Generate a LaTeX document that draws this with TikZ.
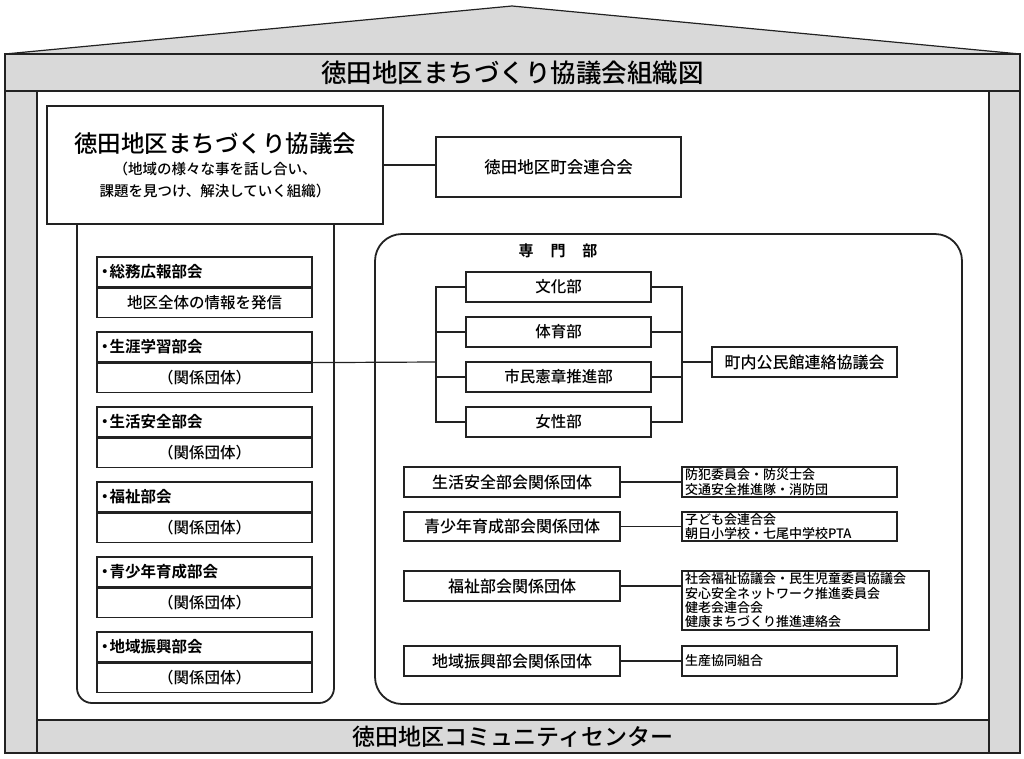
\documentclass[tikz,border=0pt]{standalone}
\usepackage{fontspec}
\setmainfont{Noto Sans CJK JP}[UprightFont=* Medium, BoldFont=* Bold]
\usetikzlibrary{positioning}

\definecolor{housegray}{HTML}{D9D9D9}
\definecolor{linegray}{HTML}{222222}
\newcommand{\tsize}[1]{\fontsize{#1pt}{#1pt}\selectfont}
\newcommand{\dotmark}{・\kern-3pt}

\begin{document}
\begin{tikzpicture}[x=1pt, y=-1pt,
    box/.style={draw=linegray, line width=1.2pt, fill=white, inner sep=0pt, minimum height=30pt},
    house/.style={draw=linegray, line width=1.2pt, fill=housegray},
    frame/.style={draw=linegray, line width=1.8pt},
    wire/.style={draw=linegray, line width=1.2pt},
    headbox/.style={box, minimum width=215pt, text width=215pt, inner xsep=0pt, align=left, font=\bfseries\tsize{15.5}},
    bodybox/.style={box, minimum width=215pt, minimum height=29pt, font=\tsize{15.5}},
    partbox/.style={box, minimum width=185pt, font=\tsize{15.5}},
    groupbox/.style={box, minimum width=216pt, font=\tsize{16}},
    memberbox/.style={box, minimum width=215pt, text width=209pt, inner xsep=3pt, align=left, font=\fontsize{13pt}{14.3pt}\selectfont}]
    \useasboundingbox (0,0) rectangle (1024,758);

    % house frame
    \draw[house] (5,54) -- (512,6) -- (1020,54) -- cycle;
    \node[box, fill=housegray, minimum width=1015pt, minimum height=37pt, font=\tsize{25.5}] (title) at (512.5,72.5) {徳田地区まちづくり協議会組織図};
    \draw[house] (5,91) rectangle (37,753);
    \draw[house] (989,91) rectangle (1020,753);
    \node[box, fill=housegray, minimum width=952pt, minimum height=33pt, font=\tsize{23}] (hall) at (513,736.5) {徳田地区コミュニティセンター};

    % containers
    \draw[frame, rounded corners=15pt] (77,190) rectangle (334,703);
    \draw[frame, rounded corners=27pt] (375,234) rectangle (962,704);

    % council
    \node[box, minimum width=336pt, minimum height=118pt, align=center, font=\fontsize{14.5pt}{22pt}\selectfont] (council) at (215,165) {{\fontsize{23.5pt}{22pt}\selectfont 徳田地区まちづくり協議会}\\（地域の様々な事を話し合い、\\課題を見つけ、解決していく組織）};
    \node[box, minimum width=245pt, minimum height=60pt, font=\tsize{16.5}] (town) at (558.5,167) {徳田地区町会連合会};
    \draw[wire] (council.east) -- (council.east -| town.west);

    % sections
    \node[headbox] (soumu) at (204.5,272) {\dotmark 総務広報部会};
    \node[bodybox, below=0pt of soumu] (soumu-body) {地区全体の情報を発信};
    \node[headbox] (shougai) at (204.5,347) {\dotmark 生涯学習部会};
    \node[bodybox, below=0pt of shougai] (shougai-body) {（関係団体）};
    \node[headbox] (seikatsu) at (204.5,422) {\dotmark 生活安全部会};
    \node[bodybox, below=0pt of seikatsu] (seikatsu-body) {（関係団体）};
    \node[headbox] (fukushi) at (204.5,497) {\dotmark 福祉部会};
    \node[bodybox, below=0pt of fukushi] (fukushi-body) {（関係団体）};
    \node[headbox] (seishounen) at (204.5,572) {\dotmark 青少年育成部会};
    \node[bodybox, below=0pt of seishounen] (seishounen-body) {（関係団体）};
    \node[headbox] (chiiki) at (204.5,647) {\dotmark 地域振興部会};
    \node[bodybox, below=0pt of chiiki] (chiiki-body) {（関係団体）};

    % senmonbu
    \node[font=\bfseries\tsize{15}] (senmon) at (558,251) {専\hspace{17pt}門\hspace{17pt}部};
    \node[partbox] (bunka) at (558.5,287) {文化部};
    \node[partbox] (taiiku) at (558.5,332) {体育部};
    \node[partbox] (shimin) at (558.5,377) {市民憲章推進部};
    \node[partbox] (josei) at (558.5,422) {女性部};
    \node[box, minimum width=185pt, font=\tsize{16}] (kominkan) at (804.5,362) {町内公民館連絡協議会};
    \coordinate (lbrack) at (436,362);
    \coordinate (rbrack) at (682,362);
    \draw[wire] (shougai.south east) -- (lbrack);
    \draw[wire] (bunka.west) -| (lbrack);
    \draw[wire] (josei.west) -| (lbrack);
    \draw[wire] (taiiku.west) -- (taiiku.west -| lbrack);
    \draw[wire] (shimin.west) -- (shimin.west -| lbrack);
    \draw[wire] (bunka.east) -| (rbrack);
    \draw[wire] (josei.east) -| (rbrack);
    \draw[wire] (taiiku.east) -- (taiiku.east -| rbrack);
    \draw[wire] (shimin.east) -- (shimin.east -| rbrack);
    \draw[wire] (rbrack) -- (kominkan.west);

    % related groups
    \node[groupbox] (seikatsu-g) at (512,482) {生活安全部会関係団体};
    \node[memberbox] (seikatsu-m) at (789.5,482) {防犯委員会・防災士会\\交通安全推進隊・消防団};
    \node[groupbox, minimum height=29pt] (seishounen-g) at (512,526.5) {青少年育成部会関係団体};
    \node[memberbox, minimum height=29pt] (seishounen-m) at (789.5,526.5) {子ども会連合会\\朝日小学校・七尾中学校PTA};
    \node[groupbox] (fukushi-g) at (512,586) {福祉部会関係団体};
    \node[memberbox, minimum width=247pt, text width=241pt, minimum height=59pt] (fukushi-m) at (805.5,600.5) {社会福祉協議会・民生児童委員協議会\\安心安全ネットワーク推進委員会\\健老会連合会\\健康まちづくり推進連絡会};
    \node[groupbox] (chiiki-g) at (512,661) {地域振興部会関係団体};
    \node[memberbox] (chiiki-m) at (789.5,661) {生産協同組合};
    \draw[wire] (seikatsu-g.east) -- (seikatsu-g.east -| seikatsu-m.west);
    \draw[wire] (seishounen-g.east) -- (seishounen-g.east -| seishounen-m.west);
    \draw[wire] (fukushi-g.east) -- (fukushi-g.east -| fukushi-m.west);
    \draw[wire] (chiiki-g.east) -- (chiiki-g.east -| chiiki-m.west);
\end{tikzpicture}
\end{document}
